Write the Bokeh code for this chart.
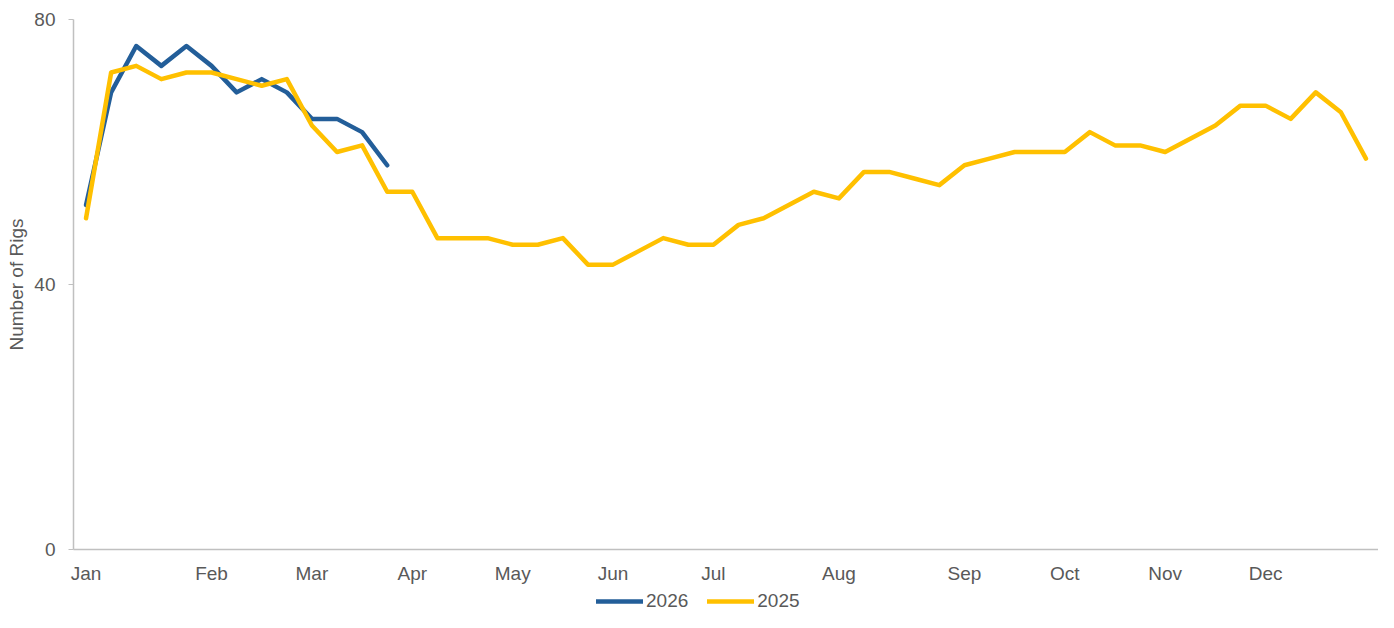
from bokeh.plotting import figure
from bokeh.layouts import column
from bokeh.models import FixedTicker, Legend, LegendItem, Range1d
from bokeh.embed import file_html
from bokeh.resources import INLINE

# Weekly index (0 = first week of Jan)
weeks_2025 = list(range(52))
rigs_2025 = [50, 72, 73, 71, 72, 72, 71, 70, 71, 64, 60, 61, 54, 54, 47, 47, 47, 46, 46, 47,
             43, 43, 45, 47, 46, 46, 49, 50, 52, 54, 53, 57, 57, 56, 55, 58, 59, 60, 60, 60,
             63, 61, 61, 60, 62, 64, 67, 67, 65, 69, 66, 59]
weeks_2026 = list(range(13))
rigs_2026 = [52, 69, 76, 73, 76, 73, 69, 71, 69, 65, 65, 63, 58]

month_ticks = [0, 5, 9, 13, 17, 21, 25, 30, 35, 39, 43, 47]
month_labels = ["Jan", "Feb", "Mar", "Apr", "May", "Jun", "Jul", "Aug", "Sep", "Oct", "Nov", "Dec"]
y_ticks = [0, 40, 80]
series = [("2026", weeks_2026, rigs_2026, "#235E99"),
          ("2025", weeks_2025, rigs_2025, "#FFC000")]

FONT = "Liberation Sans"
TXT = "#595959"
AX = "#C0C0C0"

p = figure(width=1378, height=586, output_backend="svg", toolbar_location=None,
           x_range=Range1d(-0.5, 51.5), y_range=Range1d(0, 80),
           min_border_left=73, min_border_right=0, min_border_top=19, min_border_bottom=36)
p.outline_line_color = None
p.grid.visible = False

for name, xs, ys, col in series:
    p.line(xs, ys, line_color=col, line_width=4.5, line_join="round", line_cap="round")

xa = p.xaxis[0]
xa.ticker = FixedTicker(ticks=month_ticks)
xa.major_label_overrides = {t: l for t, l in zip(month_ticks, month_labels)}
xa.major_tick_out = 0
xa.major_tick_in = 0
xa.minor_tick_out = 0
xa.minor_tick_in = 0
xa.axis_line_color = AX
xa.axis_line_width = 1.5
xa.major_label_standoff = 13
xa.major_label_text_font = FONT
xa.major_label_text_font_size = "19px"
xa.major_label_text_color = TXT

ya = p.yaxis[0]
ya.ticker = FixedTicker(ticks=y_ticks)
ya.major_tick_out = 5
ya.major_tick_in = 0
ya.minor_tick_out = 0
ya.minor_tick_in = 0
ya.major_tick_line_color = AX
ya.axis_line_color = AX
ya.axis_line_width = 1.5
ya.major_label_standoff = 13
ya.major_label_text_font = FONT
ya.major_label_text_font_size = "19px"
ya.major_label_text_color = TXT
ya.axis_label = "Number of Rigs"
ya.axis_label_text_font = FONT
ya.axis_label_text_font_size = "19px"
ya.axis_label_text_font_style = "normal"
ya.axis_label_text_color = TXT
ya.axis_label_standoff = 4

# Legend strip below the chart (its lines lie outside the strip's ranges)
lg = figure(width=1378, height=26, output_backend="svg", toolbar_location=None,
            x_axis_type=None, y_axis_type=None,
            min_border_left=73, min_border_right=0, min_border_top=0, min_border_bottom=0,
            x_range=Range1d(0, 1), y_range=Range1d(-2, -1))
lg.outline_line_color = None
lg.grid.visible = False
items = []
for name, xs, ys, col in series:
    r = lg.line(xs, ys, line_color=col, line_width=4.5, line_cap="round")
    items.append(LegendItem(label=name, renderers=[r]))
legend = Legend(items=items, orientation="horizontal", location=(523, 0),
                padding=0, margin=0, spacing=19, label_standoff=3,
                glyph_width=47, glyph_height=20, label_height=20,
                label_text_font=FONT, label_text_font_size="19px", label_text_color=TXT,
                border_line_alpha=0, background_fill_alpha=0)
lg.add_layout(legend)

layout = column(p, lg, spacing=0)
open("out.html", "w").write(file_html(layout, INLINE))
